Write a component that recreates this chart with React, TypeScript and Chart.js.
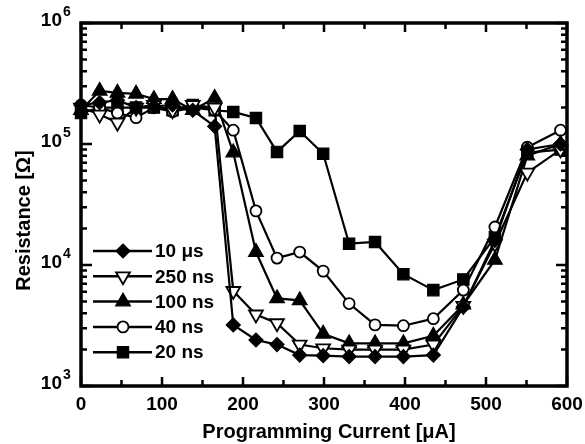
import React, { useEffect, useRef } from 'react';
import { Chart, registerables } from 'chart.js';
import { drawPoint } from 'chart.js/helpers';

Chart.register(...registerables);

// Programming current [µA]
const CURRENT = [0, 23, 45, 68, 90, 113, 138, 165, 188, 216, 242, 270, 299, 331, 363, 398, 435, 472, 511, 551, 592];

// Resistance [Ω] per pulse width
const R_10US = [2.1e5, 2.2e5, 2.3e5, 2.0e5, 2.05e5, 2.1e5, 1.9e5, 1.4e5, 3.2e3, 2.4e3, 2.2e3, 1.8e3, 1.78e3, 1.75e3, 1.75e3, 1.75e3, 1.8e3, 4.5e3, 1.6e4, 9.0e4, 1.0e5];
const R_250NS = [2.0e5, 1.75e5, 1.5e5, 2.0e5, 2.1e5, 1.9e5, 2.1e5, 2.0e5, 6.1e3, 3.9e3, 3.3e3, 2.2e3, 2.05e3, 2.0e3, 2.0e3, 2.0e3, 2.2e3, 4.6e3, 1.5e4, 5.8e4, 9.0e4];
const R_100NS = [1.9e5, 2.75e5, 2.65e5, 2.6e5, 2.35e5, 2.35e5, 1.9e5, 2.4e5, 8.5e4, 1.28e4, 5.3e3, 5.1e3, 2.7e3, 2.25e3, 2.25e3, 2.25e3, 2.6e3, 4.7e3, 1.1e4, 8.0e4, 1.0e5];
const R_40NS = [2.1e5, 2.0e5, 1.8e5, 1.65e5, 2.0e5, 1.85e5, 2.0e5, 1.9e5, 1.3e5, 2.8e4, 1.14e4, 1.28e4, 8.9e3, 4.8e3, 3.2e3, 3.15e3, 3.6e3, 6.2e3, 2.06e4, 9.4e4, 1.3e5];
const R_20NS = [1.8e5, 2.0e5, 2.0e5, 2.0e5, 2.0e5, 1.9e5, 2.1e5, 1.9e5, 1.84e5, 1.64e5, 8.6e4, 1.28e5, 8.3e4, 1.5e4, 1.55e4, 8.4e3, 6.2e3, 7.6e3, 1.7e4, 8.5e4, 9.0e4];

const SERIES_LABELS = ['10 \u03bcs', '250 ns', '100 ns', '40 ns', '20 ns'];

const X_TICKS = [0, 100, 200, 300, 400, 500, 600];
const Y_DECADES = [3, 4, 5, 6];

const X_TITLE = 'Programming Current [\u03bcA]';
const Y_TITLE = 'Resistance [\u03a9]';

const FONT = "'Liberation Sans', Arial, Helvetica, sans-serif";

const toPts = (ys: number[]) => CURRENT.map((x, i) => ({ x, y: ys[i] }));

const decoPlugin = {
  id: 'deco',
  afterDraw(chart: any) {
    const { ctx, chartArea: a, scales } = chart;
    const xs = scales.x;
    const ys = scales.y;
    ctx.save();
    ctx.strokeStyle = '#000';
    ctx.fillStyle = '#000';

    // x ticks (major + minor halfway)
    ctx.lineWidth = 2.5;
    ctx.beginPath();
    for (let i = 0; i < X_TICKS.length; i++) {
      const px = xs.getPixelForValue(X_TICKS[i]);
      ctx.moveTo(px, a.bottom); ctx.lineTo(px, a.bottom - 9);
      ctx.moveTo(px, a.top); ctx.lineTo(px, a.top + 9);
      if (i < X_TICKS.length - 1) {
        const pm = xs.getPixelForValue((X_TICKS[i] + X_TICKS[i + 1]) / 2);
        ctx.moveTo(pm, a.bottom); ctx.lineTo(pm, a.bottom - 6);
        ctx.moveTo(pm, a.top); ctx.lineTo(pm, a.top + 6);
      }
    }
    // y ticks (log decades + minors)
    for (let i = 0; i < Y_DECADES.length; i++) {
      const base = Math.pow(10, Y_DECADES[i]);
      const py = ys.getPixelForValue(base);
      ctx.moveTo(a.left, py); ctx.lineTo(a.left + 11, py);
      ctx.moveTo(a.right, py); ctx.lineTo(a.right - 11, py);
      if (i < Y_DECADES.length - 1) {
        for (let m = 2; m <= 9; m++) {
          const pm = ys.getPixelForValue(m * base);
          ctx.moveTo(a.left, pm); ctx.lineTo(a.left + 6, pm);
          ctx.moveTo(a.right, pm); ctx.lineTo(a.right - 6, pm);
        }
      }
    }
    ctx.stroke();

    // frame
    ctx.lineWidth = 3.5;
    ctx.strokeRect(a.left, a.top, a.right - a.left, a.bottom - a.top);

    // x tick labels
    ctx.font = `bold 19px ${FONT}`;
    ctx.textAlign = 'center';
    ctx.textBaseline = 'middle';
    for (const v of X_TICKS) {
      ctx.fillText(String(v), xs.getPixelForValue(v), a.bottom + 19);
    }
    // y tick labels 10^n
    for (const d of Y_DECADES) {
      const py = ys.getPixelForValue(Math.pow(10, d));
      ctx.font = `bold 19px ${FONT}`;
      ctx.textAlign = 'right';
      ctx.textBaseline = 'middle';
      ctx.fillText('10', a.left - 19, py - 2);
      ctx.font = `bold 14px ${FONT}`;
      ctx.textAlign = 'left';
      ctx.textBaseline = 'alphabetic';
      ctx.fillText(String(d), a.left - 18, py - 7);
    }
    // axis titles
    ctx.font = `bold 20px ${FONT}`;
    ctx.textAlign = 'center';
    ctx.textBaseline = 'middle';
    ctx.fillText(X_TITLE, (a.left + a.right) / 2 + 5, a.bottom + 46);
    ctx.save();
    ctx.translate(24, (a.top + a.bottom) / 2 + 16);
    ctx.rotate(-Math.PI / 2);
    ctx.fillText(Y_TITLE, 0, 0);
    ctx.restore();

    // legend
    const lx0 = a.left + 12;
    const lx1 = a.left + 71;
    const lm = a.left + 42;
    chart.data.datasets.forEach((ds: any, i: number) => {
      const y = a.top + 228 + i * 25.3;
      ctx.lineWidth = 2.5;
      ctx.strokeStyle = '#000';
      ctx.beginPath();
      ctx.moveTo(lx0, y); ctx.lineTo(lx1, y);
      ctx.stroke();
      ctx.fillStyle = ds.pointBackgroundColor;
      ctx.strokeStyle = '#000';
      ctx.lineWidth = ds.pointBorderWidth;
      drawPoint(ctx, { pointStyle: ds.pointStyle, rotation: ds.pointRotation || 0, radius: ds.pointRadius, borderWidth: ds.pointBorderWidth }, lm, y);
      ctx.fillStyle = '#000';
      ctx.font = `bold 19px ${FONT}`;
      ctx.textAlign = 'left';
      ctx.textBaseline = 'middle';
      ctx.fillText(ds.label, lx1 + 3, y + 1);
    });
    ctx.restore();
  },
};

export default function App() {
  const ref = useRef<HTMLCanvasElement>(null);
  useEffect(() => {
    document.body.style.margin = '0';
    const mk = (label: string, ys: number[], style: string, radius: number, fill: string, rot = 0) => ({
      label,
      data: toPts(ys),
      showLine: true,
      borderColor: '#000',
      borderWidth: 2.2,
      pointStyle: style,
      pointRadius: radius,
      pointHoverRadius: radius,
      pointRotation: rot,
      pointBackgroundColor: fill,
      pointBorderColor: '#000',
      pointBorderWidth: fill === '#fff' ? 1.8 : 1.2,
      clip: false as any,
    });
    const chart = new Chart(ref.current!, {
      type: 'scatter',
      data: {
        datasets: [
          mk(SERIES_LABELS[0], R_10US, 'rectRot', 7, '#000'),
          mk(SERIES_LABELS[1], R_250NS, 'triangle', 8, '#fff', 180),
          mk(SERIES_LABELS[2], R_100NS, 'triangle', 8.5, '#000'),
          mk(SERIES_LABELS[3], R_40NS, 'circle', 5.5, '#fff'),
          mk(SERIES_LABELS[4], R_20NS, 'rect', 8, '#000'),
        ] as any,
      },
      options: {
        animation: false,
        responsive: false,
        events: [],
        layout: { padding: { left: 81, right: 18, top: 23, bottom: 58 } },
        plugins: { legend: { display: false }, tooltip: { enabled: false } },
        scales: {
          x: { type: 'linear', min: 0, max: 600, display: false },
          y: { type: 'logarithmic', min: 1e3, max: 1e6, display: false },
        },
      },
      plugins: [decoPlugin],
    });
    return () => chart.destroy();
  }, []);
  return (
    <div style={{ width: 585, height: 444, background: '#fff' }}>
      <canvas ref={ref} width={585} height={444} style={{ display: 'block' }} />
    </div>
  );
}
